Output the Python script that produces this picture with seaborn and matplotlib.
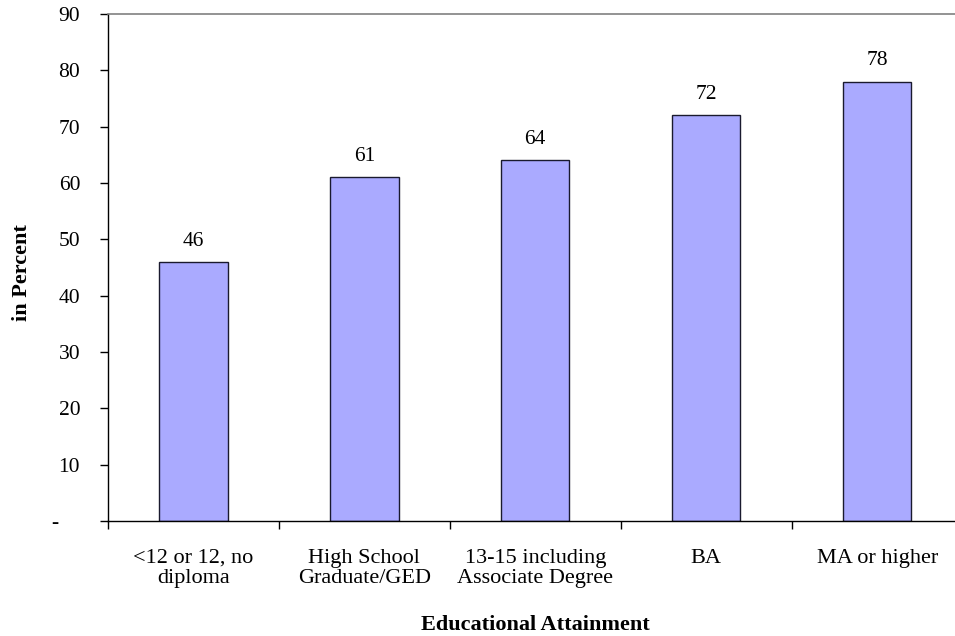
import matplotlib
matplotlib.use("Agg")
import matplotlib.pyplot as plt
import seaborn as sns
import pandas as pd

categories = ["<12 or 12, no\ndiploma", "High School\nGraduate/GED", "13-15 including\nAssociate Degree", "BA", "MA or higher"]
values = [46, 61, 64, 72, 78]
yticks = [0, 10, 20, 30, 40, 50, 60, 70, 80, 90]
ytick_labels = ["-    ", "10", "20", "30", "40", "50", "60", "70", "80", "90"]

sns.set_theme(style="white")
plt.rcParams['font.family'] = ['Liberation Serif', 'DejaVu Serif']
plt.rcParams['text.color'] = 'black'
plt.rcParams['axes.labelcolor'] = 'black'
plt.rcParams['xtick.color'] = 'black'
plt.rcParams['ytick.color'] = 'black'

df = pd.DataFrame({"cat": categories, "val": values})

fig = plt.figure(figsize=(9.55, 6.36), dpi=100)
ax = fig.add_axes([0.113, 0.181, 0.895, 0.797])
sns.barplot(data=df, x="cat", y="val", ax=ax, color="#AAAAFF", saturation=1,
            width=0.40, edgecolor="#1a1a2e", linewidth=1.0)

fs = 16
ax.set_ylim(0, 90)
ax.set_xlim(-0.5, 4.5)
ax.set_yticks(yticks)
ax.set_yticklabels(ytick_labels, fontsize=15.5)
ax.set_xticks(range(len(categories)))
ax.set_xticklabels(categories, fontsize=fs, linespacing=1.12)
ax.tick_params(axis='x', which='major', bottom=False, length=0, pad=20)
# category boundary ticks
ax.set_xticks([i - 0.5 for i in range(len(categories) + 1)], minor=True)
ax.tick_params(axis='x', which='minor', bottom=True, length=6, width=1, color='black', direction='out')
ax.tick_params(axis='y', left=True, length=6, width=1, color='black', direction='out', pad=14)

for c in ax.containers:
    ax.bar_label(c, labels=[str(v) for v in values], padding=8, fontsize=15.5)

for s in ["left", "bottom"]:
    ax.spines[s].set_color("black")
    ax.spines[s].set_linewidth(1)
ax.spines["top"].set_color("#808080")
ax.spines["top"].set_linewidth(1.2)
ax.spines["right"].set_visible(False)

ax.set_ylabel("in Percent", fontsize=fs, fontweight="bold")
ax.yaxis.set_label_coords(-0.089, 0.49)
ax.set_xlabel("Educational Attainment", fontsize=fs, fontweight="bold", labelpad=19)

fig.savefig("out.png", dpi=100)
